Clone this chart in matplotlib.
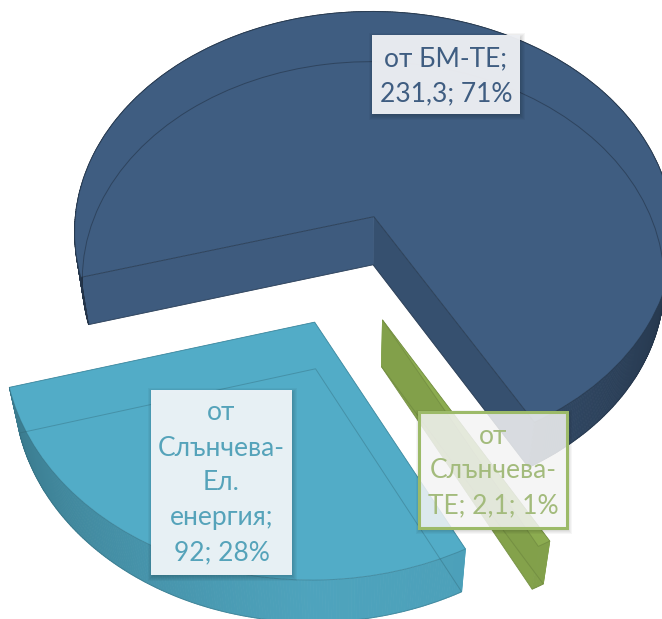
import numpy as np
import matplotlib
matplotlib.use("Agg")
import matplotlib.pyplot as plt
from matplotlib.transforms import Transform
from matplotlib.patches import Rectangle, Wedge
from matplotlib.colors import to_rgb

categories = ["от БМ-ТЕ", "от Слънчева-ТЕ", "от Слънчева-Ел. енергия"]
values = [231.3, 2.1, 92.0]
wrapped_names = ["от БМ-ТЕ;\n", "от\nСлънчева-\nТЕ; ", "от\nСлънчева-\nЕл.\nенергия;\n"]
top_colors = ["#3F5D81", "#8CAC50", "#52ACC7"]
text_colors = ["#3F5D81", "#A3BB7C", "#55A3BA"]
value_labels = ["231,3", "2,1", "92"]

plt.rcParams["font.family"] = ["Lato", "Open Sans", "DejaVu Sans"]

# perspective camera
U0, V0, A, B, D, PA, PB = 345.5, 268.7, 304.0, 229.0, 48.8, 0.078, 0.03


def project(x, y, z=0.0):
    w = 1 + PA * np.asarray(y) - PB * z
    return U0 + A * np.asarray(x) / w, V0 - (B * np.asarray(y) + D * z) / w


class Persp(Transform):
    input_dims = output_dims = 2

    def __init__(self, z=0.0):
        super().__init__()
        self.z = z

    def transform_non_affine(self, values):
        values = np.asarray(values)
        u, v = project(values[:, 0], values[:, 1], self.z)
        return np.column_stack([u, v])


fig = plt.figure(figsize=(6.62, 6.19), dpi=100)
ax = fig.add_axes([0, 0, 1, 1])
wedges, _ = ax.pie(values, explode=[0.25] * 3, startangle=195.6, counterclock=False,
                   radius=1, colors=top_colors)
ax.set_aspect("auto")
ax.set_xlim(0, 662)
ax.set_ylim(619, 0)
ax.axis("off")

order_z = [1, 3, 2]
wall_gain = [0.84, 1.0, 1.0]
side_low = [0.86, 0.94, 0.95]   # radial wall at theta1
side_high = [0.98, 0.93, 0.98]  # radial wall at theta2
edge_alpha = [0.75, 0.3, 0.4]
ghost_alpha = [0.6, 0.25, 0.35]
knots = [180, 200, 240, 270, 300, 340, 360]
levels = [0.62, 0.72, 0.86, 0.95, 0.93, 0.74, 0.64]


def shade(col, f):
    return tuple(min(1, c * f) for c in to_rgb(col))


for i, w in enumerate(wedges):
    col = top_colors[i]
    cx, cy = w.center
    r = w.r
    zb = order_z[i] * 10
    edge = shade(col, 0.6)
    # radial walls
    for th, f in ((w.theta1, side_low[i]), (w.theta2, side_high[i])):
        ex = cx + r * np.cos(np.radians(th))
        ey = cy + r * np.sin(np.radians(th))
        a = project(cx, cy, 0); b = project(ex, ey, 0)
        c = project(ex, ey, -1); d = project(cx, cy, -1)
        ax.fill([a[0], b[0], c[0], d[0]], [a[1], b[1], c[1], d[1]],
                color=shade(col, f), lw=0.5, zorder=zb)
    # outer wall strips
    ts = np.linspace(w.theta1, w.theta2, max(4, int((w.theta2 - w.theta1) * 2)))
    for t0, t1 in zip(ts[:-1], ts[1:]):
        tm = (0.5 * (t0 + t1)) % 360
        f = np.interp(tm, knots, levels) * wall_gain[i] if tm >= 180 else 0.6
        xs0, ys0 = cx + r * np.cos(np.radians(t0)), cy + r * np.sin(np.radians(t0))
        xs1, ys1 = cx + r * np.cos(np.radians(t1)), cy + r * np.sin(np.radians(t1))
        p = [project(xs0, ys0, 0), project(xs1, ys1, 0), project(xs1, ys1, -1), project(xs0, ys0, -1)]
        ax.fill([q[0] for q in p], [q[1] for q in p], color=shade(col, f), lw=0.6,
                zorder=zb + 1)
    # top face from the pie wedge
    w.set_transform(Persp(0.0) + ax.transData)
    w.set_facecolor(col)
    w.set_edgecolor((*edge, edge_alpha[i]))
    w.set_linewidth(0.7)
    w.set_zorder(zb + 2)
    # see-through outline of the bottom face
    ghost = Wedge((cx, cy), r, w.theta1, w.theta2, fill=False,
                  edgecolor=(*shade(col, 0.55), ghost_alpha[i]), linewidth=0.7, zorder=zb + 3)
    ax.add_patch(ghost)
    ghost.set_transform(Persp(-1.0) + ax.transData)

total = sum(values)
boxes = [
    (372, 35, 148, 79, 76.5, "#EDEFF3", 0.97, None),
    (419, 412, 148, 116, 471, "#FFFFFF", 0.82, "#9CBA68"),
    (151, 390, 141, 185, 483, "#ECF3F7", 0.98, None),
]
for i in range(3):
    x, y, bw, bh, ty, fc, al, ec = boxes[i]
    for g in range(1, 7):
        ax.add_patch(Rectangle((x - g + 3, y - g + 4), bw + 2 * g - 4, bh + 2 * g - 4,
                               facecolor="black", edgecolor="none", alpha=0.035, zorder=50))
    ax.add_patch(Rectangle((x, y), bw, bh, facecolor=fc, alpha=al, edgecolor="none", zorder=51))
    if ec:
        ax.add_patch(Rectangle((x, y), bw, bh, fill=False, edgecolor=ec, lw=2.2, zorder=52))
    pct = max(round(values[i] / total * 100), 1)
    txt = f"{wrapped_names[i]}{value_labels[i]}; {pct}%"
    ax.text(x + bw / 2, ty, txt, ha="center", va="center", color=text_colors[i],
            fontsize=19, linespacing=1.5, zorder=53)

fig.savefig("out.png", dpi=100, facecolor="white")
